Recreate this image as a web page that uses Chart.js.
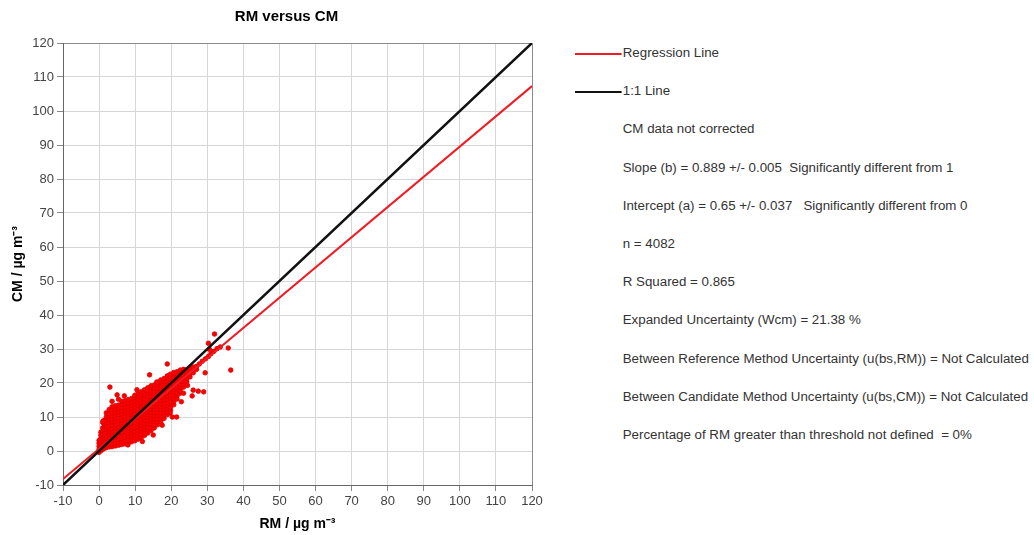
<!DOCTYPE html>
<html>
<head>
<meta charset="utf-8">
<script src="https://cdn.jsdelivr.net/npm/chart.js@4"></script>
<style>
  body { margin: 0; background: #fff; width: 1034px; height: 535px; overflow: hidden; position: relative; }
  #myChart { position: absolute; left: 0; top: 0; }
  #stats { position: absolute; left: 575px; top: 34px; font: 12px "Liberation Sans", Arial, sans-serif; color: #333; line-height: 38.2px; white-space: pre; transform: scaleX(1.11); transform-origin: 0 0; }
  #stats .key { display: inline-block; width: 42px; height: 2px; vertical-align: middle; margin-right: 1px; }
  #stats .txt { padding-left: 43px; }
</style>
</head>
<body>
<canvas id="myChart" width="560" height="535"></canvas>
<div id="stats"></div>
<script>
const rmColumns = [0, 0.5, 1, 1.5, 2, 2.8, 3.6, 4.5, 5.4, 6.3, 7.2, 8.1, 9, 9.9, 10.8, 11.7, 12.6, 13.5, 14.4, 15.3, 16.2, 17.1, 18, 18.9, 19.8, 20.7, 21.6, 22.5, 23.4, 24.3, 25.2, 26.1, 27];
const cmColumns = [
  [-0.4, 0.5, 1.4, 2.3, 3.1],
  [0.1, 1, 1.9, 2.8, 3.7, 4.6, 5.5],
  [0.5, 1.4, 2.3, 3.2, 4.1, 5, 5.9, 6.8, 8.4],
  [0.8, 1.7, 2.6, 3.5, 4.4, 5.3, 6.2, 7.1, 8, 9],
  [1, 1.9, 2.8, 3.7, 4.6, 5.5, 6.4, 7.3, 8.2, 9.1, 10, 11.2],
  [1.2, 2.1, 3, 3.9, 4.8, 5.7, 6.6, 7.5, 8.4, 9.3, 10.2, 11.1, 12.2],
  [1.3, 2.2, 3.1, 4, 4.9, 5.8, 6.7, 7.6, 8.5, 9.4, 10.3, 11.2, 12.1, 13],
  [1.5, 2.4, 3.3, 4.2, 5.1, 6, 6.9, 7.8, 8.7, 9.6, 10.5, 11.4, 12.3, 13.3],
  [1.7, 2.6, 3.5, 4.4, 5.3, 6.2, 7.1, 8, 8.9, 9.8, 10.7, 11.6, 12.5, 13.5],
  [1.9, 2.8, 3.7, 4.6, 5.5, 6.4, 7.3, 8.2, 9.1, 10, 10.9, 11.8, 12.7, 13.7, 14.6],
  [2.1, 3, 3.9, 4.8, 5.7, 6.6, 7.5, 8.4, 9.3, 10.2, 11.1, 12, 12.9, 13.9, 14.8],
  [2.4, 3.3, 4.2, 5.1, 6, 6.9, 7.8, 8.7, 9.6, 10.5, 11.4, 12.3, 13.2, 14.1, 15.1],
  [2.7, 3.6, 4.5, 5.4, 6.3, 7.2, 8.1, 9, 9.9, 10.8, 11.7, 12.6, 13.5, 14.4, 15.4],
  [3, 3.9, 4.8, 5.7, 6.6, 7.5, 8.4, 9.3, 10.2, 11.1, 12, 12.9, 13.8, 14.7, 15.7, 16.4],
  [3.5, 4.4, 5.3, 6.2, 7.1, 8, 8.9, 9.8, 10.7, 11.6, 12.5, 13.4, 14.3, 15.2, 16.1, 16.9],
  [4, 4.9, 5.8, 6.7, 7.6, 8.5, 9.4, 10.3, 11.2, 12.1, 13, 13.9, 14.8, 15.7, 16.6, 17.4],
  [4.6, 5.5, 6.4, 7.3, 8.2, 9.1, 10, 10.9, 11.8, 12.7, 13.6, 14.5, 15.4, 16.3, 17.2, 18],
  [5.3, 6.2, 7.1, 8, 8.9, 9.8, 10.7, 11.6, 12.5, 13.4, 14.3, 15.2, 16.1, 17, 17.9, 18.6],
  [6, 6.9, 7.8, 8.7, 9.6, 10.5, 11.4, 12.3, 13.2, 14.1, 15, 15.9, 16.8, 17.7, 18.6, 19.2],
  [6.8, 7.7, 8.6, 9.5, 10.4, 11.3, 12.2, 13.1, 14, 14.9, 15.8, 16.7, 17.6, 18.5, 19.4],
  [7.7, 8.6, 9.5, 10.4, 11.3, 12.2, 13.1, 14, 14.9, 15.8, 16.7, 17.6, 18.5, 19.4, 20.2],
  [8.6, 9.5, 10.4, 11.3, 12.2, 13.1, 14, 14.9, 15.8, 16.7, 17.6, 18.5, 19.4, 20.3, 20.9],
  [9.6, 10.5, 11.4, 12.3, 13.2, 14.1, 15, 15.9, 16.8, 17.7, 18.6, 19.5, 20.4, 21.3],
  [10.7, 11.6, 12.5, 13.4, 14.3, 15.2, 16.1, 17, 17.9, 18.8, 19.7, 20.6, 21.5, 22.1],
  [12, 12.9, 13.8, 14.7, 15.6, 16.5, 17.4, 18.3, 19.2, 20.1, 21, 21.9, 22.6],
  [13.6, 14.5, 15.4, 16.3, 17.2, 18.1, 19, 19.9, 20.8, 21.7, 22.6, 23.1],
  [15.3, 16.2, 17.1, 18, 18.9, 19.8, 20.7, 21.6, 22.5, 23.3],
  [17, 17.9, 18.8, 19.7, 20.6, 21.5, 22.4, 23.2, 23.8],
  [18.8, 19.7, 20.6, 21.5, 22.4, 23.2, 24],
  [20.5, 21.4, 22.3, 23.1, 23.9],
  [21.8, 22.7, 23.6, 24.3],
  [23, 23.8, 24.7],
  [24, 24.9],
];

// tail along the lines and scattered outliers, [RM, CM]
const outlierPoints = [
  [27.8, 25.6], [28.6, 26.4], [29.5, 27.1], [30.3, 27.8], [31, 28.6], [31.8, 29.3], [32.7, 30.1], [30.6, 29.9],
  [32, 34.4], [30.3, 31.7], [33.6, 30.6], [35.8, 30.3], [36.5, 23.8], [29.4, 23], [29, 17.4], [27.5, 17.6],
  [26.1, 17.9], [25.8, 16.2], [23.4, 17], [18.9, 25.6], [14, 22.4], [16, 20.3], [3, 18.8], [5, 16.5],
  [3.6, 14.6], [5.4, 15.2], [19.7, 11.2], [21.5, 10], [20.3, 10], [17.5, 7.6], [15, 4.7], [1.1, 8.8],
  [10.5, 18], [7, 16.2], [24.5, 19.3], [22.8, 14.5], [12, 2.8], [8, 1.8],
];

const regressionLine = [{ x: -10, y: -8.24 }, { x: 120, y: 107.33 }];
const oneToOneLine = [{ x: -10, y: -10 }, { x: 120, y: 120 }];

const axisMin = -10;
const axisMax = 120;
const axisStep = 10;

const chartTitle = 'RM versus CM';
const statLines = [
  'CM data not corrected',
  'Slope (b) = 0.889 +/- 0.005  Significantly different from 1',
  'Intercept (a) = 0.65 +/- 0.037   Significantly different from 0',
  'n = 4082',
  'R Squared = 0.865',
  'Expanded Uncertainty (Wcm) = 21.38 %',
  'Between Reference Method Uncertainty (u(bs,RM)) = Not Calculated',
  'Between Candidate Method Uncertainty (u(bs,CM)) = Not Calculated',
  'Percentage of RM greater than threshold not defined  = 0%',
];

const scatterData = [];
rmColumns.forEach((x, i) => cmColumns[i].forEach(y => scatterData.push({ x, y })));
outlierPoints.forEach(([x, y]) => scatterData.push({ x, y }));

// right-hand panel: legend + statistics
const stats = document.getElementById('stats');
stats.innerHTML =
  '<div><span class="key" style="background:#ee1c25"></span>Regression Line</div>' +
  '<div><span class="key" style="background:#111"></span>1:1 Line</div>' +
  statLines.map(t => '<div class="txt">' + t + '</div>').join('');

const fontFamily = '"Liberation Sans", Arial, sans-serif';
const tickFont = { family: fontFamily, size: 13 };
const axisTitleFont = { family: fontFamily, size: 14, weight: 'bold' };

// title sits a little left of the plot centre in the original
const titlePlugin = {
  id: 'offsetTitle',
  afterDraw(chart) {
    const { ctx, chartArea } = chart;
    ctx.save();
    ctx.font = 'bold 15px ' + fontFamily;
    ctx.fillStyle = '#000';
    ctx.textAlign = 'center';
    ctx.textBaseline = 'middle';
    ctx.fillText(chartTitle, (chartArea.left + chartArea.right) / 2 - 11, 17);
    ctx.restore();
  },
};

function axisOpts(titleText, isY) {
  return {
    type: 'linear',
    min: axisMin,
    max: axisMax,
    ticks: { stepSize: axisStep, color: '#444', font: tickFont, padding: 3, maxRotation: 0, autoSkip: false },
    grid: {
      color: ctx => (ctx.tick && ctx.tick.value === axisMax ? '#8a8a8a' : '#d6d6d6'),
      tickColor: '#888',
      tickLength: 6,
    },
    border: { color: '#666', width: 1 },
    title: {
      display: true,
      text: titleText,
      color: '#000',
      font: axisTitleFont,
      padding: isY ? { top: 9.6, bottom: 0 } : { top: 0, bottom: 2.6 },
    },
    afterFit: s => {
      if (isY) s.width = 63;
      else s.height = 50;
    },
  };
}

new Chart(document.getElementById('myChart'), {
  data: {
    datasets: [
      {
        type: 'line',
        label: '1:1 Line',
        data: oneToOneLine,
        borderColor: '#111',
        borderWidth: 2.5,
        borderCapStyle: 'round',
        pointRadius: 0,
        order: 1,
      },
      {
        type: 'line',
        label: 'Regression Line',
        data: regressionLine,
        borderColor: '#ee1c25',
        borderWidth: 2,
        pointRadius: 0,
        order: 2,
      },
      {
        type: 'scatter',
        label: 'RM vs CM',
        data: scatterData,
        backgroundColor: '#ff0000',
        borderColor: '#dd0000',
        borderWidth: 0.8,
        pointRadius: 2.3,
        order: 3,
      },
    ],
  },
  options: {
    responsive: false,
    animation: false,
    layout: { padding: { left: 0, right: 28, top: 43, bottom: 0 } },
    plugins: {
      legend: { display: false },
      tooltip: { enabled: false },
      title: { display: false },
    },
    scales: {
      x: axisOpts('RM / µg m⁻³', false),
      y: axisOpts('CM / µg m⁻³', true),
    },
  },
  plugins: [titlePlugin],
});
</script>
</body>
</html>
